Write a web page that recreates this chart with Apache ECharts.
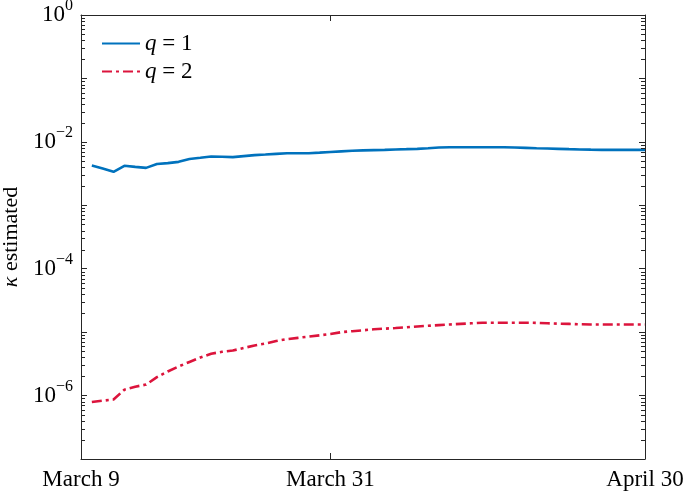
<!DOCTYPE html>
<html><head><meta charset="utf-8">
<script src="https://cdn.jsdelivr.net/npm/echarts@6/dist/echarts.min.js"></script>
<style>html,body{margin:0;padding:0;background:#fff}#c{width:685px;height:491px}</style>
</head><body><div id="c"></div>
<script>
// day index (0 = March 9)
const days = [1,2,3,4,5,6,7,8,9,10,11,12,13,14,15,16,17,18,19,20,21,22,23,24,25,26,
  27,28,29,30,31,32,33,34,35,36,37,38,39,40,41,42,43,44,45,46,47,48,49,50,51,52];
const kappaQ1 = [4.24e-3,3.80e-3,3.37e-3,4.19e-3,4.03e-3,3.89e-3,4.47e-3,4.62e-3,4.84e-3,5.37e-3,
  5.62e-3,5.89e-3,5.82e-3,5.75e-3,5.96e-3,6.17e-3,6.31e-3,6.46e-3,6.61e-3,6.61e-3,
  6.63e-3,6.76e-3,6.92e-3,7.08e-3,7.24e-3,7.33e-3,7.41e-3,7.48e-3,7.59e-3,7.67e-3,
  7.76e-3,7.94e-3,8.13e-3,8.22e-3,8.24e-3,8.24e-3,8.24e-3,8.24e-3,8.22e-3,8.13e-3,
  8.04e-3,7.94e-3,7.85e-3,7.76e-3,7.67e-3,7.59e-3,7.53e-3,7.48e-3,7.48e-3,7.48e-3,
  7.48e-3,7.48e-3];
const kappaQ2 = [7.9e-7,8.3e-7,8.65e-7,1.24e-6,1.38e-6,1.49e-6,1.95e-6,2.40e-6,2.88e-6,3.39e-6,
  3.98e-6,4.57e-6,4.90e-6,5.13e-6,5.62e-6,6.17e-6,6.61e-6,7.24e-6,7.76e-6,8.13e-6,
  8.51e-6,8.91e-6,9.33e-6,1.00e-5,1.035e-5,1.07e-5,1.11e-5,1.135e-5,1.16e-5,1.19e-5,
  1.23e-5,1.26e-5,1.29e-5,1.32e-5,1.35e-5,1.38e-5,1.41e-5,1.41e-5,1.41e-5,1.41e-5,
  1.41e-5,1.40e-5,1.38e-5,1.36e-5,1.35e-5,1.33e-5,1.32e-5,1.32e-5,1.32e-5,1.32e-5,
  1.32e-5,1.32e-5];
const xTickDays = [0, 23, 52];
const xTickLabels = ['March 9', 'March 31', 'April 30'];
const yMajorTicks = [1e-7,1e-6,1e-5,1e-4,1e-3,1e-2,1e-1,1];
const yLabelTicks = [1e-6,1e-4,1e-2,1];
const yDecades = [1e-7,1e-6,1e-5,1e-4,1e-3,1e-2,1e-1];
const yMinorMantissas = [2,3,4,5,6,7,8,9];
const seriesNames = ['q = 1', 'q = 2'];

const yMinorTicks = [];
yDecades.forEach(d => yMinorMantissas.forEach(m => yMinorTicks.push(m * d)));

const FONT = '"Liberation Serif", "DejaVu Serif", serif';
const AX = '#262626';
const chart = echarts.init(document.getElementById('c'));

function yMajor(pos, labels, name) {
  return {
    type: 'log', logBase: 10, min: 1e-7, max: 1, position: pos,
    axisLine: { show: true, onZero: false, lineStyle: { color: AX, width: 1 } },
    axisTick: { show: true, inside: true, length: 6, customValues: yMajorTicks, lineStyle: { color: AX, width: 1 } },
    minorTick: { show: false },
    splitLine: { show: false },
    axisLabel: labels ? {
      show: true, margin: 8, customValues: yLabelTicks,
      formatter: v => '{b|10}{s|' + String(Math.round(Math.log10(v))).replace('-', '\u2212') + '}',
      rich: {
        b: { fontFamily: FONT, fontSize: 23, color: '#000', verticalAlign: 'middle' },
        s: { fontFamily: FONT, fontSize: 16, color: '#000', verticalAlign: 'top', padding: [0, 0, 18, 0] }
      }
    } : { show: false },
    name: name || '',
    nameLocation: 'middle', nameRotate: 90, nameGap: 56,
    nameTextStyle: {
      fontFamily: FONT, fontSize: 22, color: '#000',
      rich: { k: { fontFamily: FONT, fontSize: 22, fontStyle: 'italic', color: '#000' },
              t: { fontFamily: FONT, fontSize: 22, color: '#000' } }
    }
  };
}

function xAxisDef(pos, labels) {
  return {
    type: 'value', min: 0, max: 52, position: pos,
    axisLine: { show: true, onZero: false, lineStyle: { color: AX, width: 1 } },
    axisTick: { show: true, inside: true, length: 6, customValues: [xTickDays[1]], lineStyle: { color: AX, width: 1 } },
    splitLine: { show: false },
    axisLabel: labels ? {
      show: true, margin: 9, customValues: xTickDays,
      formatter: v => xTickLabels[xTickDays.indexOf(Math.round(v))] || '',
      fontFamily: FONT, fontSize: 23, color: '#000'
    } : { show: false }
  };
}

// minor tick marks on the left (x = 0) and right (x = 52) frame edges, positioned by the log y scale
const minorTickData = [];
yMinorTicks.forEach(v => { minorTickData.push([0, v, 1]); minorTickData.push([52, v, -1]); });

chart.setOption({
  animation: false,
  backgroundColor: '#fff',
  grid: { left: 81, right: 40, top: 15, bottom: 32, containLabel: false, outerBoundsMode: 'none' },
  xAxis: [xAxisDef('bottom', true), xAxisDef('top', false)],
  yAxis: [
    yMajor('left', true, '{k|\u03ba} {t|estimated}'),
    yMajor('right', false)
  ],
  legend: {
    orient: 'vertical', left: 96, top: 27, itemWidth: 38, itemHeight: 14, itemGap: 5,
    data: seriesNames,
    itemStyle: { opacity: 0 },
    formatter: n => '{i|q} = ' + n.split('= ')[1],
    textStyle: {
      fontFamily: FONT, fontSize: 23, color: '#000',
      rich: { i: { fontFamily: FONT, fontSize: 23, fontStyle: 'italic', color: '#000' } }
    }
  },
  series: [
    { name: seriesNames[0], type: 'line', xAxisIndex: 0, yAxisIndex: 0, showSymbol: false, symbol: 'none',
      data: days.map((d, i) => [d, kappaQ1[i]]),
      lineStyle: { color: '#0072BD', width: 2.6 }, itemStyle: { color: '#0072BD' } },
    { name: seriesNames[1], type: 'line', xAxisIndex: 0, yAxisIndex: 0, showSymbol: false, symbol: 'none',
      data: days.map((d, i) => [d, kappaQ2[i]]),
      lineStyle: { color: '#DC143C', width: 2.6, type: [10, 4, 3, 4] }, itemStyle: { color: '#DC143C' } },
    { type: 'custom', xAxisIndex: 0, yAxisIndex: 0, silent: true, clip: false, z: 5,
      encode: { x: 0, y: 1 },
      data: minorTickData,
      renderItem: (params, api) => {
        const p = api.coord([api.value(0), api.value(1)]);
        const dir = api.value(2);
        const y = Math.round(p[1]) + 0.5;
        return { type: 'line', silent: true,
          shape: { x1: p[0], y1: y, x2: p[0] + dir * 4, y2: y },
          style: { stroke: AX, lineWidth: 1 } };
      } }
  ]
});
</script></body></html>
